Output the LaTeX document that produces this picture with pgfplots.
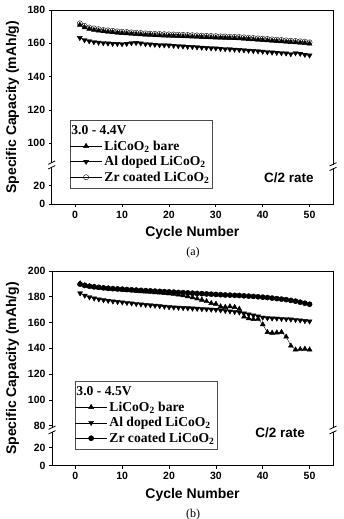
\documentclass[border=0pt]{standalone}
\usepackage{fontspec}
\setmainfont{Liberation Serif}
\setsansfont{Liberation Sans}
\usepackage{pgfplots}
\usepackage{pgfplotstable}
\pgfplotsset{compat=1.18}

% panel (a): c = cycle, a = LiCoO2 bare, b = Al doped, z = Zr coated
\pgfplotstableread{
c a b z
1 171.0 163.3 172.0
2 169.5 162.0 170.5
3 168.6 161.3 169.5
4 168.0 160.8 169.0
5 167.6 160.5 168.5
6 167.2 160.2 168.0
7 166.9 160.0 167.8
8 166.6 159.8 167.5
9 166.3 159.7 167.2
10 166.1 159.6 167.0
11 165.9 159.8 166.8
12 165.7 160.2 166.6
13 165.5 160.3 166.4
14 165.3 160.0 166.2
15 165.1 159.6 166.0
16 165.0 159.4 165.8
17 164.8 159.2 165.7
18 164.7 159.0 165.6
19 164.6 158.9 165.5
20 164.5 158.8 165.4
21 164.4 158.6 165.3
22 164.3 158.4 165.2
23 164.2 158.2 165.1
24 164.1 158.0 165.0
25 164.0 157.9 164.9
26 163.9 157.7 164.8
27 163.7 157.5 164.6
28 163.6 157.3 164.5
29 163.5 157.1 164.4
30 163.4 157.0 164.3
31 163.3 156.8 164.2
32 163.2 156.6 164.1
33 163.1 156.5 164.0
34 163.0 156.3 163.9
35 162.9 156.1 163.8
36 162.7 155.9 163.6
37 162.5 155.7 163.4
38 162.3 155.5 163.2
39 162.1 155.3 163.0
40 161.9 155.1 162.8
41 161.7 154.8 162.6
42 161.5 154.6 162.4
43 161.3 154.4 162.2
44 161.1 154.2 162.0
45 160.9 154.0 161.8
46 160.7 153.6 161.6
47 160.5 154.2 161.4
48 160.3 153.8 161.2
49 160.1 153.2 161.0
50 159.8 152.8 160.6
}\dataA

% panel (b)
\pgfplotstableread{
c a b z
1 190.3 182.8 189.8
2 188.8 181.0 188.8
3 188.0 179.7 188.2
4 187.5 178.8 187.7
5 187.0 178.1 187.3
6 186.6 177.5 186.9
7 186.3 177.0 186.6
8 186.0 176.5 186.3
9 185.7 176.1 186.1
10 185.4 175.8 185.9
11 185.1 175.4 185.6
12 184.8 175.0 185.4
13 184.5 174.6 185.2
14 184.2 174.2 185.0
15 184.0 173.8 184.8
16 183.7 173.5 184.6
17 183.4 173.2 184.4
18 183.1 172.8 184.2
19 182.8 172.4 184.0
20 182.5 172.0 183.8
21 182.1 171.8 183.6
22 181.6 171.6 183.4
23 181.0 171.4 183.2
24 180.3 171.2 183.0
25 179.5 171.0 182.8
26 178.6 170.8 182.6
27 177.6 170.6 182.4
28 176.5 170.4 182.2
29 175.0 170.2 182.0
30 174.5 170.0 181.8
31 172.5 169.6 181.6
32 172.0 169.2 181.4
33 172.5 168.8 181.3
34 172.0 168.4 181.1
35 170.5 168.0 181.0
36 164.6 167.2 180.7
37 163.2 166.4 180.5
38 162.6 165.6 180.3
39 162.8 164.8 180.0
40 158.5 164.0 179.7
41 152.5 163.5 179.4
42 152.0 163.3 179.0
43 152.2 163.2 178.6
44 152.6 163.0 178.2
45 149.0 162.8 177.8
46 142.0 162.5 177.2
47 139.0 162.2 176.6
48 139.3 161.8 175.8
49 139.6 161.3 175.0
50 139.0 161.0 174.2
}\dataB

\pgfplotsset{
  common/.style={
    scale only axis, anchor=south west,
    xmin=-5, xmax=55, xtick={0,10,...,50},
    tick align=outside, tick pos=left, major tick length=3pt,
    axis line style={line width=0.8pt},
    major tick style={line width=0.8pt, black},
    tick label style={font=\sffamily\bfseries\fontsize{10.5}{12}\selectfont},
    /pgf/number format/assume math mode=true,
    xlabel={Cycle Number}, ylabel={Specific Capacity (mAh/g)},
    label style={font=\sffamily\bfseries\fontsize{14}{16}\selectfont},
    clip=false,
    legend cell align=left,
    legend style={draw=black!70, line width=0.5pt,
      font=\rmfamily\bfseries\fontsize{13.6}{15}\selectfont,
      inner xsep=0pt, inner ysep=3pt, row sep=0pt,
      nodes={inner xsep=2.5pt, inner ysep=2.3pt}},
    legend image code/.code={\draw[mark repeat=2,mark phase=2,#1] plot coordinates {(0cm,0cm) (0.55cm,0cm) (1.1cm,0cm)};},
  },
  ser/.style={black, line width=0.4pt, mark size=2.9pt},
}

\begin{document}
\begin{tikzpicture}
\useasboundingbox (0pt,0pt) rectangle (343pt,519pt);

% ---------- panel (a)
\begin{axis}[common, at={(51.7pt,314.7pt)}, width=281.3pt, height=194.3pt,
  ymin=63.4, ymax=180,
  ytick={63.4,74.6,100,120,140,160,180},
  yticklabels={0,20,100,120,140,160,180},
  xlabel style={at={(axis description cs:0.5,-0.146)}, anchor=center},
  ylabel style={at={(axis description cs:-0.139,0.5)}, anchor=center},
  legend style={at={(0.065,0.434)}, anchor=north west}]
\addlegendimage{empty legend}
\addlegendentry{\hspace{-33pt}3.0 - 4.4V}
\addplot[ser, mark=triangle*] table[x=c,y=a]{\dataA};
\addlegendentry{LiCoO\textsubscript{2} bare}
\addplot[ser, mark=triangle*, mark options={rotate=180}] table[x=c,y=b]{\dataA};
\addlegendentry{Al doped LiCoO\textsubscript{2}}
\addplot[ser, mark=o, mark size=2.6pt] table[x=c,y=z]{\dataA};
\addlegendentry{Zr coated LiCoO\textsubscript{2}}
\node[font=\sffamily\bfseries\fontsize{13.5}{16}\selectfont] at (axis cs:45.6,79.6) {C/2 rate};
\coordinate (La) at (axis cs:-5,87);
\coordinate (Ra) at (axis cs:55,86);
\end{axis}

% ---------- panel (b)
\begin{axis}[common, at={(52pt,53.3pt)}, width=281pt, height=194.7pt,
  ymin=49, ymax=200,
  ytick={49,63,80,100,120,140,160,180,200},
  yticklabels={0,20,80,100,120,140,160,180,200},
  xlabel style={at={(axis description cs:0.5,-0.150)}, anchor=center},
  ylabel style={at={(axis description cs:-0.1406,0.5)}, anchor=center},
  legend style={at={(0.082,0.435)}, anchor=north west}]
\addlegendimage{empty legend}
\addlegendentry{\hspace{-33pt}3.0 - 4.5V}
\addplot[ser, mark=triangle*] table[x=c,y=a]{\dataB};
\addlegendentry{LiCoO\textsubscript{2} bare}
\addplot[ser, mark=triangle*, mark options={rotate=180}] table[x=c,y=b]{\dataB};
\addlegendentry{Al doped LiCoO\textsubscript{2}}
\addplot[ser, mark=*, mark size=2.6pt] table[x=c,y=z]{\dataB};
\addlegendentry{Zr coated LiCoO\textsubscript{2}}
\node[font=\sffamily\bfseries\fontsize{13.5}{16}\selectfont] at (axis cs:43.7,74.6) {C/2 rate};
\coordinate (Lb) at (axis cs:-5,76.7);
\coordinate (Rb) at (axis cs:55,76.7);
\end{axis}

% axis breaks
\foreach \p in {La,Ra,Lb,Rb}{
  \fill[white] ([xshift=-4pt,yshift=-1.6pt]\p) rectangle ([xshift=4pt,yshift=1.6pt]\p);
  \draw[line width=0.8pt] ([xshift=-3.5pt,yshift=-4pt]\p) -- ([xshift=3.5pt,yshift=-0.6pt]\p);
  \draw[line width=0.8pt] ([xshift=-3.5pt,yshift=0.6pt]\p) -- ([xshift=3.5pt,yshift=4pt]\p);
}

\node[font=\rmfamily\fontsize{12}{14}\selectfont] at (193pt,266pt) {(a)};
\node[font=\rmfamily\fontsize{12}{14}\selectfont] at (193pt,4.6pt) {(b)};
\end{tikzpicture}
\end{document}
